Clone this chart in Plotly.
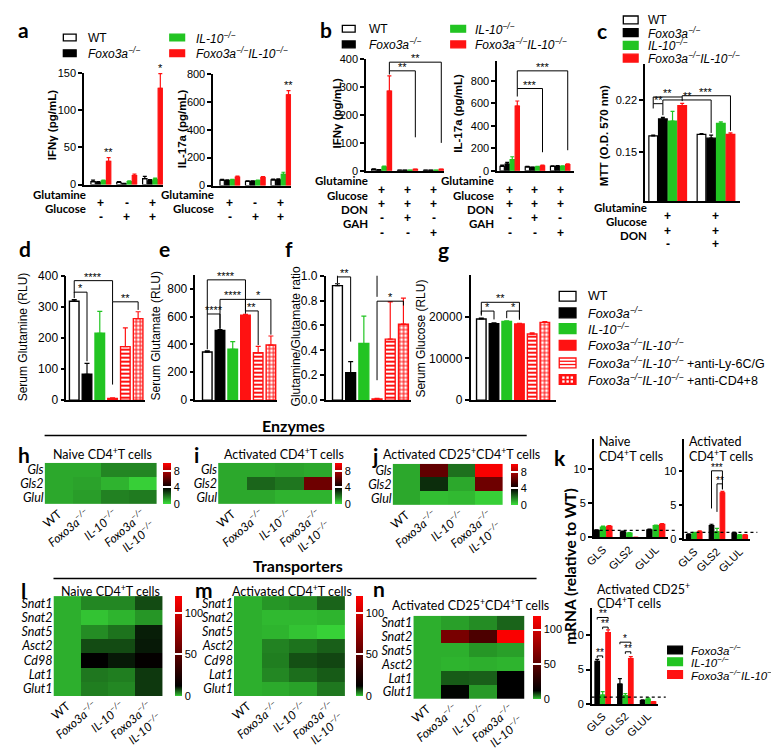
import plotly.graph_objects as go

W, H = 779, 749
def fx(p): return p / W
def fy(p): return 1 - p / H

ARIAL = "Liberation Sans, Arial, sans-serif"
CAL = "Lato, sans-serif"
BLACK, GREEN, RED, WHITE = "#000000", "#22c422", "#ff1212", "#ffffff"
SUP = "<sup>−/−</sup>"
FOXO = "<i>Foxo3a" + SUP + "</i>"
IL10 = "<i>IL-10" + SUP + "</i>"
DKO = "<i>Foxo3a" + SUP + "IL-10" + SUP + "</i>"

# ---------------- data ----------------
genotypes = ["WT", "Foxo3a-/-", "IL-10-/-", "Foxo3a-/-IL-10-/-"]

# panel a (rows = genotype, cols = condition)
a_glutamine = ["+", "-", "+"]
a_glucose = ["-", "+", "+"]
a_ifng = [[4, 3, 8], [3, 1, 5], [5, 4, 7], [31, 12, 129]]
a_ifng_err = [[2, 1, 3], [1, 0.5, 1.5], [1, 1, 1.5], [5, 2, 20]]
a_il17 = [[38, 30, 40], [35, 30, 40], [40, 35, 80], [60, 58, 650]]
a_il17_err = [[6, 4, 6], [5, 4, 8], [5, 4, 15], [8, 6, 30]]

# panel b
b_glutamine = ["+", "+", "+"]
b_glucose = ["+", "+", "+"]
b_don = ["-", "+", "-"]
b_gah = ["-", "-", "+"]
b_ifng = [[5, 2, 2], [3, 2, 2], [14, 2, 2], [285, 5, 5]]
b_ifng_err = [[2, 0.5, 0.5], [1, 0.5, 0.5], [3, 0.5, 0.5], [55, 1, 1]]
b_il17 = [[40, 35, 40], [60, 30, 40], [100, 35, 40], [575, 45, 55]]
b_il17_err = [[10, 5, 5], [15, 4, 6], [25, 5, 5], [45, 6, 6]]

# panel c
c_glutamine = ["+", "+"]
c_glucose = ["+", "+"]
c_don = ["-", "+"]
c_mtt = [[0.172, 0.174], [0.195, 0.169], [0.192, 0.189], [0.213, 0.174]]
c_mtt_err = [[0.001, 0.001], [0.002, 0.004], [0.013, 0.002], [0.003, 0.002]]

# panels d-g
serum_groups = genotypes + ["Foxo3a-/-IL-10-/- +anti-Ly-6C/G", "Foxo3a-/-IL-10-/- +anti-CD4+8"]
d_glutamine = [318, 83, 215, 5, 172, 262]
d_err = [5, 35, 70, 2, 60, 22]
e_glutamate = [345, 500, 365, 610, 340, 395]
e_err = [8, 6, 55, 5, 45, 65]
f_ratio = [0.92, 0.22, 0.455, 0.01, 0.49, 0.61]
f_err = [0.015, 0.09, 0.22, 0.004, 0.30, 0.21]
g_glucose = [19400, 18300, 18800, 18200, 15800, 18600]
g_err = [200, 200, 150, 150, 300, 200]

# heatmaps (columns = genotypes)
enzyme_rows = ["Gls", "Gls2", "Glul"]
h_naive = [[1.0, 1.0, 1.6, 1.6], [1.0, 1.1, 0.8, 0.3], [1.0, 1.2, 1.7, 1.8]]
i_activated = [[1.0, 1.0, 1.1, 1.0], [1.0, 2.2, 1.9, 6.6], [1.0, 1.0, 0.8, 0.8]]
j_cd25 = [[1.0, 6.3, 2.0, 9.8], [1.0, 3.2, 1.0, 6.6], [1.0, 0.6, 0.7, 0.3]]

transporter_rows = ["Snat1", "Snat2", "Snat5", "Asct2", "Cd98", "Lat1", "Glut1"]
l_naive = [[1, 3.5, 3.5, 7.3], [1, 0.6, 0.9, 2.6], [1, 3.2, 4.8, 10.1], [1, 7.3, 7.3, 10.4],
           [1, 12.3, 10.4, 13.5], [1, 4.5, 4.1, 8.5], [1, 4.1, 3.5, 8.5]]
m_activated = [[1, 2.6, 3.2, 5.7], [1, 0.8, 0.8, 0.9], [1, 0.9, 0.6, 0.3], [1, 3.8, 4.8, 6.0],
               [1, 4.1, 7.0, 7.6], [1, 3.5, 5.1, 6.3], [1, 1.3, 1.9, 4.5]]
n_rows = ["Snat1", "Snat2", "Snat5", "Asct2", "Lat1", "Glut1"]
n_cd25 = [[1, 2.0, 3.2, 5.7], [1, 63, 44, 118], [1, 1.0, 2.6, 2.0], [1, 0.9, 1.0, 0.9],
          [1, 6.3, 6.0, 12.0], [1, 11.7, 2.3, 12.0]]

# panel k (rows = Foxo3a, IL-10, DKO; cols = GLS, GLS2, GLUL)
k_genes = ["GLS", "GLS2", "GLUL"]
k_naive = [[1.0, 0.8, 1.1], [1.5, 0.6, 1.7], [1.6, 0.0, 1.9]]
k_naive_err = [[0.1, 0.1, 0.1], [0.15, 0.1, 0.1], [0.1, 0.0, 0.1]]
k_act = [[0.7, 2.0, 0.9], [0.9, 1.1, 0.6], [1.1, 6.8, 0.6]]
k_act_err = [[0.1, 0.2, 0.1], [0.1, 0.5, 0.1], [0.15, 0.2, 0.1]]
k_cd25 = [[6.2, 2.9, 0.5], [1.3, 1.2, 0.7], [10.4, 6.6, 0.3]]
k_cd25_err = [[0.3, 0.8, 0.1], [0.5, 0.3, 0.2], [0.4, 0.3, 0.05]]

# ---------------- helpers ----------------
fig = go.Figure()
L = dict(width=W, height=H, margin=dict(l=0, r=0, t=0, b=0), paper_bgcolor=WHITE,
         plot_bgcolor=WHITE, showlegend=False, barmode="overlay")
shapes, annos = [], []

def xa(i): return "xaxis" if i == 1 else f"xaxis{i}"
def ya(i): return "yaxis" if i == 1 else f"yaxis{i}"
def xr(i): return "x" if i == 1 else f"x{i}"
def yr(i): return "y" if i == 1 else f"y{i}"

STYLES = [
    dict(fill=WHITE, edge=BLACK, pat=""),
    dict(fill=BLACK, edge=BLACK, pat=""),
    dict(fill=GREEN, edge=GREEN, pat=""),
    dict(fill=RED, edge=RED, pat=""),
    dict(fill=WHITE, edge=RED, pat="-"),
    dict(fill=WHITE, edge=RED, pat="+"),
]

def txt(x, y, text, size=11, family=ARIAL, xanchor="center", yanchor="middle", angle=0,
        xref="paper", yref="paper", yshift=0):
    annos.append(dict(x=fx(x) if xref == "paper" else x, y=fy(y) if yref == "paper" else y,
                      xref=xref, yref=yref, text=text, showarrow=False, xanchor=xanchor,
                      yanchor=yanchor, textangle=angle, yshift=yshift,
                      font=dict(family=family, size=size, color=BLACK)))

def bar_axes(i, x0, x1, ytop, ybot, xrange, yrange, yticks, fmt=None, fs=11,
             xticks=None, xtext=None):
    xd = dict(domain=[fx(x0), fx(x1)], range=xrange, anchor=yr(i), showline=True,
              linecolor=BLACK, linewidth=1.5, ticks="", showticklabels=False,
              showgrid=False, zeroline=False)
    if xticks is not None:
        xd.update(showticklabels=True, tickvals=xticks, ticktext=xtext, tickangle=-45,
                  tickfont=dict(family=ARIAL, size=11, color=BLACK))
    yd = dict(domain=[fy(ybot), fy(ytop)], range=yrange, anchor=xr(i), showline=True,
              linecolor=BLACK, linewidth=1.5, ticks="outside", ticklen=4, tickwidth=1.5,
              tickcolor=BLACK, tickvals=yticks, tickfont=dict(family=ARIAL, size=fs, color=BLACK),
              showgrid=False, zeroline=False)
    if fmt:
        yd["tickformat"] = fmt
    L[xa(i)] = xd
    L[ya(i)] = yd

def pos(g, s, n, step): return g + (s - (n - 1) / 2) * step

def grouped_bars(i, values, errs, step, width, style_idx):
    n = len(values)
    for s, (vals, es) in enumerate(zip(values, errs)):
        st = STYLES[style_idx[s]]
        fig.add_trace(go.Bar(
            x=list(range(len(vals))), y=vals, xaxis=xr(i), yaxis=yr(i), width=width,
            offset=(s - (n - 1) / 2) * step - width / 2,
            marker=dict(color=st["fill"], line=dict(color=st["edge"], width=1.2)),
            error_y=dict(type="data", array=es, arrayminus=[0] * len(es), symmetric=False,
                         color=st["edge"], thickness=1.2, width=2),
            hoverinfo="skip"))

def single_bars(i, vals, errs, width):
    for s in range(len(vals)):
        st = STYLES[s]
        marker = dict(color=st["fill"], line=dict(color=st["edge"], width=1.4))
        if st["pat"]:
            marker["pattern"] = dict(shape=st["pat"], fgcolor=RED, bgcolor=WHITE, size=4,
                                     solidity=0.5, fillmode="replace")
        fig.add_trace(go.Bar(
            x=[s], y=[vals[s]], xaxis=xr(i), yaxis=yr(i), width=width, offset=-width / 2,
            marker=marker,
            error_y=dict(type="data", array=[errs[s]], arrayminus=[0], symmetric=False,
                         color=st["edge"], thickness=1.2, width=2.5),
            hoverinfo="skip"))

def bracket(i, x0, x1, y, yl0, yl1, text, fs=11, dy=-4):
    shapes.append(dict(type="path", xref=xr(i), yref=yr(i),
                       path=f"M{x0},{yl0} L{x0},{y} L{x1},{y} L{x1},{yl1}",
                       line=dict(color=BLACK, width=1)))
    txt((x0 + x1) / 2, y, text, fs, ARIAL, yanchor="bottom", xref=xr(i), yref=yr(i), yshift=dy)

def star(i, x, y, text):
    txt(x, y, text, 11, ARIAL, yanchor="bottom", xref=xr(i), yref=yr(i), yshift=-2)

def sign_table(i, rows, labels, ys, label_x):
    for row, lab, y in zip(rows, labels, ys):
        txt(label_x, y, f"<b>{lab}</b>", 11.5, CAL, xanchor="right")
        for g, s in enumerate(row):
            annos.append(dict(x=g, y=fy(y), xref=xr(i), yref="paper", text=f"<b>{s}</b>",
                              showarrow=False, font=dict(family=ARIAL, size=12, color=BLACK)))

def swatch(sidx, x0, w, yc, h):
    st = STYLES[sidx]
    shapes.append(dict(type="rect", xref="paper", yref="paper", x0=fx(x0), x1=fx(x0 + w),
                       y0=fy(yc + h / 2), y1=fy(yc - h / 2), fillcolor=st["fill"],
                       line=dict(color=st["edge"], width=1.3)))
    if st["pat"] == "-":
        for k in (1, 2):
            yy = yc - h / 2 + k * h / 3
            shapes.append(dict(type="line", xref="paper", yref="paper", x0=fx(x0), x1=fx(x0 + w),
                               y0=fy(yy), y1=fy(yy), line=dict(color=RED, width=1.3)))
    if st["pat"] == "+":
        shapes[-1]["fillcolor"] = RED
        for cx in (0.25, 0.5, 0.75):
            for cy in (0.3, 0.7):
                xx = x0 + cx * w
                yy = yc - h / 2 + cy * h
                shapes.append(dict(type="rect", xref="paper", yref="paper", x0=fx(xx - 1.2),
                                   x1=fx(xx + 1.2), y0=fy(yy + 1.2), y1=fy(yy - 1.2),
                                   fillcolor=WHITE, line=dict(width=0)))

def legend(xb, wb, hb, xt, ys, items, fs):
    for y, (sidx, label) in zip(ys, items):
        swatch(sidx, xb, wb, y, hb)
        txt(xt, y, label, fs, ARIAL, xanchor="left")

ENZ = [[0, "#3be03b"], [0.4, "#000000"], [1, "#ff0000"]]
TRN = [[0, "#3be03b"], [1 / 120, "#2daf2d"], [12 / 120, "#000000"], [1, "#ff0000"]]
COLS = ["WT", FOXO, IL10, "<i>Foxo3a" + SUP + "</i><br><i>IL-10" + SUP + "</i>"]

def heat(i, x0, x1, ytop, ybot, z, rows, scale, zmax, cbx, cbw, cbticks):
    L[xa(i)] = dict(domain=[fx(x0), fx(x1)], range=[-0.5, 3.5], anchor=yr(i),
                    tickvals=[0, 1, 2, 3], ticktext=COLS, tickangle=-40, ticks="",
                    showgrid=False, zeroline=False, showline=False,
                    tickfont=dict(family=CAL, size=12, color=BLACK))
    L[ya(i)] = dict(domain=[fy(ybot), fy(ytop)], range=[len(rows) - 0.5, -0.5], anchor=xr(i),
                    tickvals=list(range(len(rows))), ticktext=[f"<i>{r}</i>" for r in rows],
                    ticks="", showgrid=False, zeroline=False, showline=False,
                    tickfont=dict(family=CAL, size=12.5, color=BLACK))
    fig.add_trace(go.Heatmap(
        z=z, x=[0, 1, 2, 3], y=list(range(len(rows))), xaxis=xr(i), yaxis=yr(i),
        colorscale=scale, zmin=0, zmax=zmax, hoverinfo="skip",
        colorbar=dict(x=fx(cbx), xanchor="left", y=fy(ytop), yanchor="top",
                      len=(ybot - ytop) / H, lenmode="fraction", thickness=cbw,
                      xpad=0, ypad=0, outlinewidth=0, tickvals=cbticks, ticks="inside",
                      ticklen=cbw, tickcolor=WHITE, tickwidth=1.5,
                      tickfont=dict(family=ARIAL, size=11, color=BLACK))))

# ---------------- panel a ----------------
bar_axes(1, 68, 148, 59, 173, [-0.65, 2.4], [0, 150], [0, 50, 100, 150])
grouped_bars(1, a_ifng, a_ifng_err, 0.2, 0.17, [0, 1, 2, 3])
bar_axes(2, 199, 278, 60, 174, [-0.65, 2.4], [0, 800], [0, 200, 400, 600, 800])
grouped_bars(2, a_il17, a_il17_err, 0.2, 0.17, [0, 1, 2, 3])
star(1, pos(0, 3, 4, 0.2), a_ifng[3][0] + a_ifng_err[3][0], "**")
star(1, pos(2, 3, 4, 0.2), a_ifng[3][2] + a_ifng_err[3][2], "*")
star(2, pos(2, 3, 4, 0.2), a_il17[3][2] + a_il17_err[3][2], "**")
sign_table(1, [a_glutamine, a_glucose], ["Glutamine", "Glucose"], [183, 197], 72)
sign_table(2, [a_glutamine, a_glucose], ["Glutamine", "Glucose"], [183, 197], 202)
txt(35, 113, "<b>IFNγ (pg/mL)</b>", 11.5, angle=-90)
txt(167, 116, "<b>IL-17a (pg/mL)</b>", 11.5, angle=-90)
legend(47, 13, 7, 70, [23, 39], [(0, "WT"), (1, FOXO)], 12)
legend(155, 15, 7, 180, [23, 39], [(2, IL10), (3, DKO)], 12)

# ---------------- panel b ----------------
bar_axes(3, 354, 433, 45, 159, [-0.6, 2.4], [0, 400], [0, 100, 200, 300, 400])
grouped_bars(3, b_ifng, b_ifng_err, 0.2, 0.17, [0, 1, 2, 3])
bar_axes(4, 487, 565, 47, 159, [-0.5, 2.55], [0, 975], [0, 200, 400, 600, 800])
grouped_bars(4, b_il17, b_il17_err, 0.2, 0.17, [0, 1, 2, 3])
bracket(3, pos(0, 3, 4, 0.2), pos(1, 3, 4, 0.2), 358, 345, 120, "**")
bracket(3, pos(0, 3, 4, 0.2), pos(2, 3, 4, 0.2), 389, 358, 100, "**")
bracket(4, pos(0, 3, 4, 0.2), pos(1, 3, 4, 0.2), 731, 660, 165, "***")
bracket(4, pos(0, 3, 4, 0.2), pos(2, 3, 4, 0.2), 888, 731, 183, "***")
btab = [b_glutamine, b_glucose, b_don, b_gah]
blab = ["Glutamine", "Glucose", "DON", "GAH"]
sign_table(3, btab, blab, [169, 184, 198, 213], 358)
sign_table(4, btab, blab, [169, 184, 198, 213], 486)
txt(325, 100, "<b>IFNγ (pg/mL)</b>", 11.5, angle=-90)
txt(447, 100, "<b>IL-17a (pg/mL)</b>", 11.5, angle=-90)
legend(330, 13, 7, 355, [14, 30], [(0, "WT"), (1, FOXO)], 12)
legend(440, 15, 7, 463, [14, 30], [(2, IL10), (3, DKO)], 12)

# ---------------- panel c ----------------
bar_axes(5, 637, 733, 50, 190, [-0.47, 1.49], [0.084, 0.269], [0.15, 0.22], fmt=".2f")
grouped_bars(5, c_mtt, c_mtt_err, 0.2, 0.18, [0, 1, 2, 3])
P = lambda g, s: pos(g, s, 4, 0.2)
bracket(5, P(0, 0), P(0, 1), 0.2155, 0.209, 0.2, "**")
bracket(5, P(0, 0), P(0, 3), 0.2245, 0.2155, 0.219, "**")
bracket(5, P(0, 1), P(1, 1), 0.2205, 0.2155, 0.176, "**")
bracket(5, P(0, 3), P(1, 3), 0.2262, 0.2245, 0.179, "***")
sign_table(5, [c_glutamine, c_glucose, c_don], ["Glutamine", "Glucose", "DON"], [196, 211, 225], 641)
txt(595, 123, "<b>MTT (O.D. 570 nm)</b>", 11.5, angle=-90)
legend(615, 15, 8, 638, [5, 18, 31, 44], [(0, "WT"), (1, FOXO), (2, IL10), (3, DKO)], 12)

# ---------------- panels d-g ----------------
bar_axes(6, 50, 130, 266, 393, [-0.62, 5.55], [0, 400], [0, 100, 200, 300, 400], fs=12)
single_bars(6, d_glutamine, d_err, 0.75)
bracket(6, 0, 3, 384, 345, 316, "****")
bracket(6, 0, 1, 347, 328, 125, "*")
bracket(6, 3, 5, 316, 50, 290, "**")
txt(7, 328, "Serum Glutamine (RLU)", 12, angle=-90)

bar_axes(7, 181, 264, 265, 393, [-0.93, 5.5], [0, 900], [0, 200, 400, 600, 800], fs=12)
single_bars(7, e_glutamate, e_err, 0.75)
bracket(7, 0, 3, 863, 618, 723, "****")
bracket(7, 1, 3, 723, 512, 640, "****")
bracket(7, 3, 5, 723, 640, 470, "*")
bracket(7, 0, 1, 618, 365, 512, "****")
bracket(7, 3, 4, 640, 620, 395, "**")
txt(141, 328, "Serum Glutamate (RLU)", 12, angle=-90)

bar_axes(8, 313, 400, 266, 393, [-0.9, 5.6], [0, 1.0], [0, 0.2, 0.4, 0.6, 0.8, 1.0], fmt=".1f", fs=12)
single_bars(8, f_ratio, f_err, 0.75)
bracket(8, 0, 3, 1.10, 0.99, 0.83, "****")
bracket(8, 0, 1, 0.99, 0.94, 0.47, "**")
bracket(8, 3, 5, 0.795, 0.16, 0.76, "*")
txt(283, 328, "Glutamine/Glutamate ratio", 12, angle=-90)

bar_axes(9, 460, 547, 265, 393, [-0.85, 5.9], [0, 30000], [0, 10000, 20000], fmt="d", fs=12)
single_bars(9, g_glucose, g_err, 0.75)
bracket(9, 0, 3, 23400, 20500, 19500, "**")
bracket(9, 0, 1, 21300, 20200, 19300, "*")
bracket(9, 2, 3, 21300, 19600, 19200, "*")
txt(410, 330, "Serum Glucose (RLU)", 12, angle=-90)

legend(550, 17, 10, 577, [287, 304, 320, 337, 355, 372],
       [(0, "WT"), (1, FOXO), (2, IL10), (3, DKO), (4, DKO + " +anti-Ly-6C/G"),
        (5, DKO + " +anti-CD4+8")], 12.5)

# ---------------- heatmaps ----------------
heat(10, 28, 142, 457, 499, h_naive, enzyme_rows, ENZ, 10, 148, 8, [0, 4, 8])
heat(11, 204, 320, 457, 499, i_activated, enzyme_rows, ENZ, 10, 323, 7, [0, 4, 8])
heat(12, 381, 493, 458, 500, j_cd25, enzyme_rows, ENZ, 10, 501, 7, [0, 4, 8])
heat(13, 37, 148, 593, 695, l_naive, transporter_rows, TRN, 120, 160, 7, [0, 50, 100])
heat(14, 220, 333, 593, 695, m_activated, transporter_rows, TRN, 120, 344, 7, [0, 50, 100])
heat(15, 402, 515, 613, 698, n_cd25, n_rows, TRN, 120, 523, 8, [0, 50, 100])

TS = 12.5
txt(87, 447, "Naive CD4<sup>+</sup>T cells", TS, CAL)
txt(271, 447, "Activated CD4<sup>+</sup>T cells", TS, CAL)
txt(451, 447, "Activated CD25<sup>+</sup>CD4<sup>+</sup>T cells", TS, CAL)
txt(95, 587, "Naive CD4<sup>+</sup>T cells", TS, CAL)
txt(279, 587, "Activated CD4<sup>+</sup>T cells", TS, CAL)
txt(460, 602, "Activated CD25<sup>+</sup>CD4<sup>+</sup>T cells", TS, CAL)

txt(280, 419, "<b>Enzymes</b>", 16, CAL)
shapes.append(dict(type="line", xref="paper", yref="paper", x0=fx(28), x1=fx(517),
                   y0=fy(429), y1=fy(429), line=dict(color=BLACK, width=1.5)))
txt(285, 562, "<b>Transporters</b>", 16, CAL)
shapes.append(dict(type="line", xref="paper", yref="paper", x0=fx(37), x1=fx(527),
                   y0=fy(575), y1=fy(575), line=dict(color=BLACK, width=1.5)))

# ---------------- panel k ----------------
KS = 0.24
bar_axes(16, 585, 660, 433, 533, [-0.35, 2.45], [0, 14.3], [0, 5, 10], fs=11,
         xticks=[0, 1, 2], xtext=k_genes)
grouped_bars(16, k_naive, k_naive_err, KS, 0.2, [1, 2, 3])
bar_axes(17, 677, 743, 433, 535, [-0.43, 2.43], [0, 14.6], [0, 5, 10], fs=11,
         xticks=[0, 1, 2], xtext=k_genes)
grouped_bars(17, k_act, k_act_err, KS, 0.2, [1, 2, 3])
bar_axes(18, 583, 650, 605, 703, [-0.48, 2.43], [0, 14], [0, 5, 10], fs=11,
         xticks=[0, 1, 2], xtext=k_genes)
grouped_bars(18, k_cd25, k_cd25_err, KS, 0.2, [1, 2, 3])
for i in (16, 17, 18):
    shapes.append(dict(type="line", xref=f"x{i} domain", yref=f"y{i}", x0=0, x1=1.12,
                       y0=1, y1=1, line=dict(color=BLACK, width=1.2, dash="dot")))
K = lambda g, s: pos(g, s, 3, KS)
bracket(17, K(1, 0), K(1, 2), 10.0, 4.5, 7.3, "***", fs=10)
bracket(17, K(1, 1), K(1, 2), 8.1, 4.0, 7.3, "**", fs=10)
bracket(18, K(0, 0), K(0, 2), 12.6, 12.3, 12.3, "**", fs=10)
bracket(18, K(0, 1), K(0, 2), 11.2, 10.9, 10.9, "**", fs=10)
bracket(18, K(0, 0), K(0, 1), 7.0, 6.7, 6.7, "**", fs=10)
bracket(18, K(1, 0), K(1, 2), 9.0, 8.7, 8.7, "*", fs=10)
bracket(18, K(1, 1), K(1, 2), 7.6, 7.3, 7.3, "**", fs=10)
txt(588, 435, "Naive", 12.5, CAL, xanchor="left")
txt(588, 450, "CD4<sup>+</sup>T cells", 12.5, CAL, xanchor="left")
txt(680, 435, "Activated", 12.5, CAL, xanchor="left")
txt(680, 450, "CD4<sup>+</sup>T cells", 12.5, CAL, xanchor="left")
txt(586, 585, "Activated CD25<sup>+</sup>", 12.5, CAL, xanchor="left")
txt(586, 599, "CD4<sup>+</sup>T cells", 12.5, CAL, xanchor="left")
txt(561, 563, "<b>mRNA (relative to WT)</b>", 15.5, CAL, angle=-90)
legend(660, 15, 8, 682, [648, 660, 673], [(1, FOXO), (2, IL10), (3, DKO)], 11.5)

# ---------------- panel letters ----------------
for lt, x, y in [("a", 7, 15), ("b", 313, 15), ("c", 593, 16), ("d", 8, 238), ("e", 150, 238),
                 ("f", 276, 238), ("g", 433, 239), ("h", 7, 448), ("i", 182, 448),
                 ("j", 363, 449), ("k", 551, 452), ("l", 7, 587), ("m", 190, 586),
                 ("n", 367, 585)]:
    txt(x, y, f"<b>{lt}</b>", 21, CAL)

L["shapes"] = shapes
L["annotations"] = annos
fig.update_layout(**L)
fig.write_html("out.html")
